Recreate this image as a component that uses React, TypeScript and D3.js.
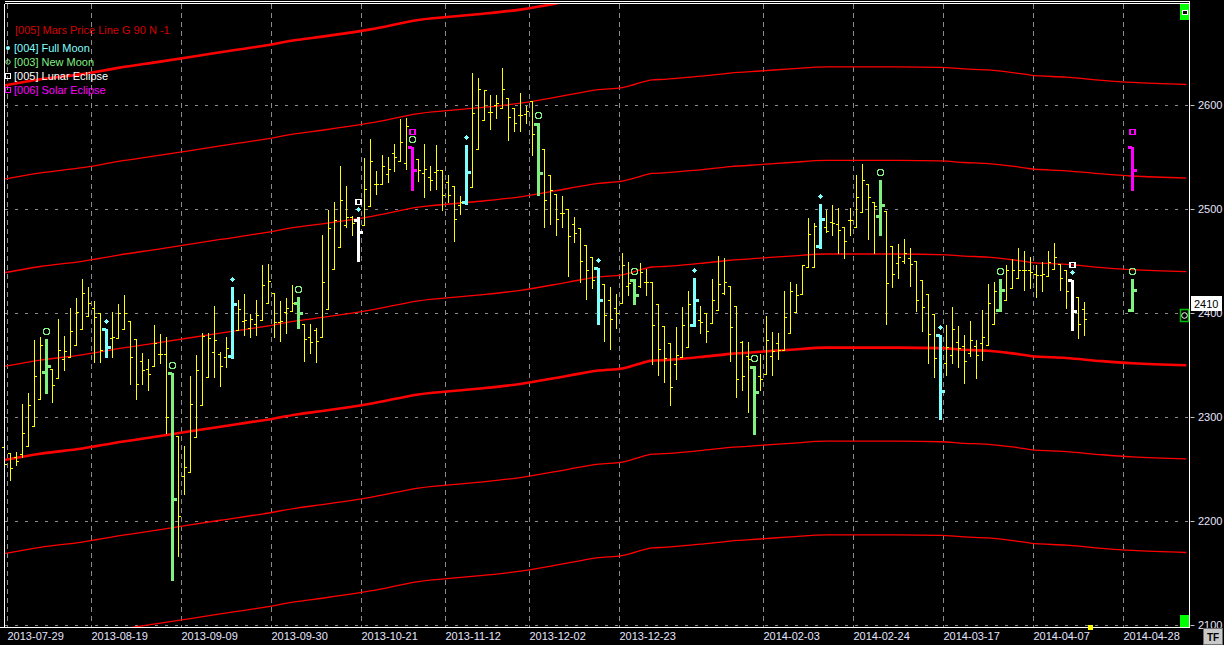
import React from 'react';
import * as d3 from 'd3';

const W = 1224;
const H = 645;

// x-axis ticks (bar index -> date label)
const tickBars = [1, 15, 30, 45, 60, 74, 88, 103, 127, 142, 157, 172, 187];
const tickLabels = ['2013-07-29', '2013-08-19', '2013-09-09', '2013-09-30', '2013-10-21', '2013-11-12', '2013-12-02', '2013-12-23', '2014-02-03', '2014-02-24', '2014-03-17', '2014-04-07', '2014-04-28'];
const priceTicks = [2100, 2200, 2300, 2400, 2500, 2600];

// daily OHLC (bar 0 .. 180)
const opens = [
  2271, 2266, 2262, 2265, 2272, 2292, 2318, 2344, 2346, 2338,
  2356, 2358, 2370, 2385, 2397, 2405, 2400, 2385, 2376, 2376,
  2385, 2393, 2375, 2354, 2346, 2349, 2361, 2361, 2343, 2282,
  2244, 2247, 2281, 2312, 2339, 2363, 2361, 2358, 2359, 2384,
  2393, 2386, 2390, 2394, 2410, 2420, 2392, 2401, 2402, 2410,
  2390, 2377, 2384, 2377, 2404, 2443, 2464, 2485, 2493, 2490,
  2485, 2503, 2524, 2524, 2534, 2554, 2546, 2545, 2560, 2548,
  2535, 2531, 2536, 2538, 2526, 2522, 2504, 2507, 2521, 2558,
  2586, 2594, 2600, 2597, 2607, 2597, 2591, 2592, 2604, 2582,
  2558, 2533, 2515, 2496, 2500, 2486, 2482, 2466, 2454, 2444,
  2428, 2413, 2405, 2410, 2426, 2432, 2426, 2430, 2430, 2409,
  2388, 2371, 2351, 2358, 2368, 2389, 2394, 2400, 2391, 2403,
  2420, 2426, 2407, 2372, 2359, 2348, 2340, 2342, 2359, 2371,
  2365, 2381, 2401, 2419, 2445, 2445, 2465, 2483, 2488, 2486,
  2483, 2490, 2483, 2497, 2524, 2507, 2494, 2498, 2465, 2448,
  2450, 2453, 2450, 2432, 2419, 2399, 2379, 2352, 2360, 2372,
  2369, 2362, 2369, 2371, 2370, 2390, 2403, 2413, 2424, 2434,
  2442, 2442, 2438, 2437, 2436, 2443, 2447, 2442, 2432, 2416, 2404,
];
const highs = [
  2272, 2266, 2267, 2313, 2323, 2374, 2377, 2375, 2346, 2395,
  2378, 2405, 2415, 2433, 2425, 2412, 2400, 2385, 2401, 2409,
  2418, 2393, 2375, 2362, 2356, 2389, 2380, 2377, 2343, 2282,
  2272, 2340, 2360, 2381, 2381, 2407, 2363, 2377, 2425, 2413,
  2419, 2399, 2413, 2446, 2447, 2420, 2412, 2415, 2427, 2416,
  2390, 2390, 2386, 2475, 2499, 2507, 2542, 2522, 2494, 2493,
  2549, 2568, 2537, 2552, 2550, 2563, 2587, 2588, 2560, 2548,
  2563, 2542, 2562, 2538, 2533, 2522, 2513, 2562, 2631, 2626,
  2615, 2610, 2610, 2636, 2607, 2597, 2612, 2599, 2604, 2583,
  2558, 2533, 2515, 2513, 2500, 2493, 2482, 2466, 2454, 2444,
  2428, 2425, 2419, 2458, 2449, 2433, 2448, 2443, 2430, 2409,
  2388, 2371, 2387, 2406, 2421, 2434, 2407, 2400, 2433, 2455,
  2453, 2426, 2407, 2373, 2372, 2349, 2361, 2397, 2382, 2381,
  2421, 2430, 2428, 2446, 2492, 2487, 2505, 2499, 2504, 2501,
  2483, 2501, 2533, 2544, 2524, 2507, 2528, 2498, 2465, 2467,
  2471, 2463, 2450, 2432, 2419, 2399, 2379, 2389, 2406, 2388,
  2379, 2393, 2374, 2403, 2428, 2430, 2433, 2446, 2452, 2463,
  2460, 2454, 2446, 2449, 2460, 2468, 2447, 2442, 2432, 2416, 2411,
];
const lows = [
  2250, 2240, 2254, 2262, 2272, 2292, 2318, 2323, 2315, 2338,
  2345, 2358, 2370, 2385, 2397, 2353, 2353, 2358, 2358, 2376,
  2385, 2332, 2318, 2332, 2326, 2349, 2352, 2285, 2144, 2167,
  2226, 2247, 2281, 2312, 2339, 2339, 2330, 2348, 2357, 2384,
  2379, 2377, 2379, 2394, 2410, 2377, 2373, 2381, 2402, 2386,
  2354, 2362, 2353, 2377, 2404, 2443, 2464, 2483, 2475, 2450,
  2485, 2503, 2515, 2524, 2526, 2537, 2546, 2539, 2519, 2527,
  2512, 2519, 2520, 2499, 2507, 2470, 2495, 2505, 2521, 2558,
  2586, 2577, 2588, 2597, 2567, 2575, 2575, 2583, 2552, 2514,
  2483, 2486, 2475, 2483, 2436, 2469, 2430, 2414, 2424, 2390,
  2373, 2366, 2386, 2410, 2418, 2409, 2425, 2418, 2351, 2341,
  2334, 2312, 2337, 2358, 2368, 2388, 2381, 2372, 2391, 2403,
  2419, 2354, 2320, 2326, 2305, 2284, 2326, 2342, 2341, 2356,
  2365, 2381, 2401, 2419, 2445, 2445, 2463, 2478, 2475, 2458,
  2453, 2475, 2483, 2497, 2471, 2458, 2475, 2390, 2425, 2434,
  2448, 2426, 2402, 2383, 2352, 2339, 2298, 2341, 2352, 2348,
  2333, 2359, 2338, 2355, 2370, 2390, 2402, 2413, 2424, 2434,
  2422, 2424, 2416, 2421, 2436, 2443, 2422, 2405, 2384, 2376, 2379,
];
const closes = [
  2255, 2251, 2258, 2285, 2312, 2340, 2370, 2349, 2331, 2365,
  2364, 2383, 2401, 2420, 2410, 2396, 2365, 2368, 2377, 2400,
  2400, 2358, 2332, 2345, 2342, 2371, 2361, 2300, 2221, 2205,
  2252, 2313, 2345, 2378, 2376, 2374, 2349, 2367, 2409, 2404,
  2394, 2395, 2398, 2427, 2431, 2392, 2393, 2405, 2410, 2400,
  2375, 2372, 2373, 2430, 2482, 2490, 2509, 2493, 2487, 2478,
  2520, 2546, 2524, 2542, 2539, 2550, 2565, 2580, 2538, 2538,
  2539, 2528, 2538, 2514, 2514, 2491, 2507, 2536, 2593, 2616,
  2615, 2594, 2602, 2616, 2589, 2583, 2591, 2595, 2572, 2535,
  2509, 2519, 2491, 2496, 2474, 2477, 2450, 2442, 2432, 2413,
  2398, 2395, 2400, 2446, 2429, 2418, 2440, 2430, 2389, 2366,
  2357, 2329, 2360, 2389, 2409, 2413, 2392, 2383, 2413, 2428,
  2430, 2387, 2337, 2340, 2356, 2324, 2337, 2374, 2364, 2365,
  2396, 2421, 2418, 2446, 2476, 2484, 2491, 2479, 2487, 2480,
  2470, 2490, 2512, 2528, 2512, 2503, 2504, 2429, 2438, 2454,
  2458, 2447, 2413, 2406, 2380, 2357, 2325, 2368, 2385, 2367,
  2354, 2374, 2360, 2377, 2410, 2421, 2422, 2442, 2442, 2442,
  2442, 2440, 2437, 2438, 2449, 2454, 2434, 2421, 2402, 2390, 2395,
];

// moon events on existing bars
const eventBars = [7, 17, 28, 38, 49, 59, 68, 77, 89, 99, 105, 115, 125, 136, 146, 156, 166, 178];
const eventKinds = ['new', 'full', 'new', 'full', 'new', 'lunar', 'solar', 'full', 'new', 'full', 'new', 'full', 'new', 'full', 'new', 'full', 'new', 'lunar'];

// projected (future) event markers
const projBars = [188, 188];
const projKinds = ['new', 'solarOnly'];
const projOpen = [2403, 2560];
const projHigh = [2433, 2560];
const projLow = [2402, 2519];
const projClose = [2422, 2538];

// Mars price line (base harmonic), sampled along the bars
const marsBars = [0, 6, 13, 19, 26, 36, 43, 49, 53, 61, 69, 78, 86, 94, 99, 103, 105, 108, 110, 116, 121, 126, 131, 137, 141, 149, 156, 160, 164, 168, 171, 177, 183, 188, 197];
const marsValues = [2259, 2265, 2270, 2276, 2282, 2291, 2297, 2303, 2306, 2313, 2322, 2327, 2332, 2340, 2345, 2347, 2350, 2354.5, 2355, 2358, 2361, 2363, 2365, 2367, 2367, 2367, 2366.5, 2365, 2364, 2361.5, 2359, 2357, 2354, 2352, 2350];
const harmonicSteps = [-2, -1, 0, 1, 2, 3, 4];
const harmonicSpacing = 90;

const lastPrice = 2410;
const nextBar = 181;

const legendItems = [
  { label: '[004] Full Moon', color: '#80ffff', marker: 'dot' },
  { label: '[003] New Moon', color: '#80f080', marker: 'circle' },
  { label: '[005] Lunar Eclipse', color: '#ffffff', marker: 'square' },
  { label: '[006] Solar Eclipse', color: '#ff00ff', marker: 'square' },
];

const COL: Record<string, string> = {
  new: '#80f080',
  full: '#80ffff',
  lunar: '#ffffff',
  solar: '#ff00ff',
  solarOnly: '#ff00ff',
};

const FONT = 'Arial, "Liberation Sans", sans-serif';

export default function App() {
  React.useEffect(() => {
    document.body.style.margin = '0';
    document.body.style.background = '#000';
  }, []);

  const x = d3.scaleLinear().domain([0, 197]).range([4.3, 1186.3]);
  const y = d3.scaleLinear().domain([2100, 2600]).range([625.3, 105.3]);
  const L = 4.5, T = 3.5, R = 1189.5, B = 627.5;

  const bars = opens.map((o, i) => ({ i, o, h: highs[i], l: lows[i], c: closes[i] }));
  const evSet = new Set(eventBars);

  const marsPts = marsBars.map((b, i) => ({ b, v: marsValues[i] }));

  const yellowPath = bars
    .filter((d) => !evSet.has(d.i))
    .map((d) => {
      const n = Math.round(x(d.i));
      const yh = Math.round(y(d.h));
      const yl = Math.round(y(d.l));
      const yo = Math.round(y(d.o));
      const yc = Math.round(y(d.c));
      return `M${n + 0.5},${yh}V${yl + 1}M${n - 2},${yo + 0.5}H${n + 1}M${n},${yc + 0.5}H${n + 3}`;
    })
    .join('');

  const eventBar = (k: number, o: number, h: number, l: number, c: number, kind: string, key: string) => {
    const n = Math.round(x(k));
    const col = COL[kind];
    const yh = Math.round(y(h));
    const yl = Math.round(y(l));
    const yo = Math.round(y(o));
    const yc = Math.round(y(c));
    const m1 = yh - 7.5;
    const m2 = yh - 15;
    const cx = n + 0.5;
    const marks: React.ReactNode[] = [];
    if (kind === 'full' || kind === 'lunar') {
      marks.push(<circle key="d" cx={cx} cy={m1} r={2.3} fill="#80ffff" />);
    }
    if (kind === 'new' || kind === 'solar') {
      marks.push(<circle key="c" cx={cx} cy={m1} r={3.2} fill="none" stroke="#80f080" strokeWidth={1.1} />);
    }
    if (kind === 'lunar' || kind === 'solar' || kind === 'solarOnly') {
      marks.push(<rect key="s" x={cx - 2.5} y={m2 - 2.5} width={5} height={5} fill="none" stroke={col} strokeWidth={1.2} />);
    }
    return (
      <g key={key}>
        <rect x={n - 1} y={yh} width={3} height={yl - yh + 1} fill={col} />
        <rect x={n - 4} y={yo - 1} width={4} height={3} fill={col} />
        <rect x={n + 1} y={yc - 1} width={4} height={3} fill={col} />
        {marks}
      </g>
    );
  };

  return (
    <svg width={W} height={H} style={{ display: 'block', background: '#000' }} fontFamily={FONT}>
      <defs>
        <clipPath id="plot">
          <rect x={0} y={T} width={R} height={B - T} />
        </clipPath>
      </defs>
      <rect x={0} y={0} width={W} height={H} fill="#000" />

      {/* grid */}
      <g stroke="#8a8a8a" strokeWidth={1} shapeRendering="crispEdges">
        {priceTicks.map((p) => (
          <line key={p} x1={L} x2={R} y1={Math.round(y(p)) + 0.5} y2={Math.round(y(p)) + 0.5} strokeDasharray="3,7" />
        ))}
        {tickBars.map((t) => {
          const gx = Math.round(x(t)) - 2.5;
          return <line key={t} x1={gx} x2={gx} y1={T} y2={B} strokeDasharray="5,4" />;
        })}
      </g>

      {/* Mars price lines */}
      <g clipPath="url(#plot)" fill="none" stroke="#ff0000">
        {harmonicSteps.map((s) => {
          const line = d3
            .line<{ b: number; v: number }>()
            .x((d) => x(d.b))
            .y((d) => y(d.v + s * harmonicSpacing))
            .curve(d3.curveMonotoneX);
          const thick = s === 0 || s === 4;
          return <path key={s} d={line(marsPts) || ''} strokeWidth={thick ? 2.6 : 1.3} />;
        })}
      </g>

      {/* price bars */}
      <g clipPath="url(#plot)">
        <path d={yellowPath} stroke="#ffff00" strokeWidth={1} fill="none" shapeRendering="crispEdges" />
        <g shapeRendering="crispEdges">
          {eventBars.map((k, j) => eventBar(k, opens[k], highs[k], lows[k], closes[k], eventKinds[j], `e${k}`))}
          {projBars.map((k, j) => eventBar(k, projOpen[j], projHigh[j], projLow[j], projClose[j], projKinds[j], `p${j}`))}
        </g>
      </g>

      {/* frame */}
      <g stroke="#ffffff" strokeWidth={1} shapeRendering="crispEdges">
        <line x1={L} x2={R} y1={1.5} y2={1.5} />
        <line x1={L} x2={R} y1={T} y2={T} />
        <line x1={L} x2={L} y1={T} y2={B} />
        <line x1={R} x2={R} y1={1} y2={B} />
        <line x1={0} x2={R} y1={B} y2={B} />
      </g>

      {/* right axis */}
      <g fill="#e4e4ff" fontSize={11}>
        {priceTicks.map((p) => (
          <g key={p}>
            <line x1={R + 1} x2={R + 5} y1={Math.round(y(p)) + 0.5} y2={Math.round(y(p)) + 0.5} stroke="#c0c0c0" />
            <text x={1198} y={y(p) + 4}>{p}</text>
          </g>
        ))}
      </g>

      {/* bottom axis */}
      <g fill="#e4e4ff" fontSize={11}>
        {tickBars.map((t, i) => (
          <text key={t} x={Math.round(x(t)) - 2.5} y={640}>{tickLabels[i]}</text>
        ))}
      </g>

      {/* legend */}
      <g fontSize={11}>
        <text x={15} y={34} fill="#d80000">[005] Mars Price Line G 90 N -1</text>
        {legendItems.map((it, i) => {
          const ly = 48 + i * 14;
          return (
            <g key={it.label}>
              {it.marker === 'dot' && <circle cx={8} cy={ly} r={2} fill={it.color} />}
              {it.marker === 'circle' && <circle cx={8} cy={ly} r={2.2} fill="none" stroke={it.color} strokeWidth={1} />}
              {it.marker === 'square' && <rect x={5.5} y={ly - 2.5} width={5} height={5} fill="none" stroke={it.color} strokeWidth={1} />}
              <text x={14} y={ly + 4} fill={it.color}>{it.label}</text>
            </g>
          );
        })}
      </g>

      {/* right-edge widgets */}
      <rect x={1180} y={4} width={9} height={16} fill="#00ff00" />
      <rect x={1182.5} y={10.5} width={5} height={4} fill="#000" stroke="#ffffff" />
      <rect x={1180} y={615} width={9} height={12} fill="#00ff00" />
      <rect x={1180.5} y={309.5} width={8} height={12} fill="#000" stroke="#00c000" strokeWidth={1.5} />
      <circle cx={1184.5} cy={315.5} r={2.8} fill="none" stroke="#ffffff" />
      <rect x={1191} y={Math.round(y(lastPrice)) - 7} width={31} height={15} fill="#ffffff" />
      <text x={1194} y={Math.round(y(lastPrice)) + 4.5} fontSize={11} fill="#000">{lastPrice}</text>
      <rect x={Math.round(x(nextBar)) - 2} y={625} width={5} height={5} fill="#ffff00" />
      <rect x={1203.5} y={628.5} width={19} height={16} fill="#c8c8c8" stroke="#707070" />
      <text x={1213} y={641} fontSize={10} fontWeight="bold" textAnchor="middle" fill="#000">TF</text>
    </svg>
  );
}
